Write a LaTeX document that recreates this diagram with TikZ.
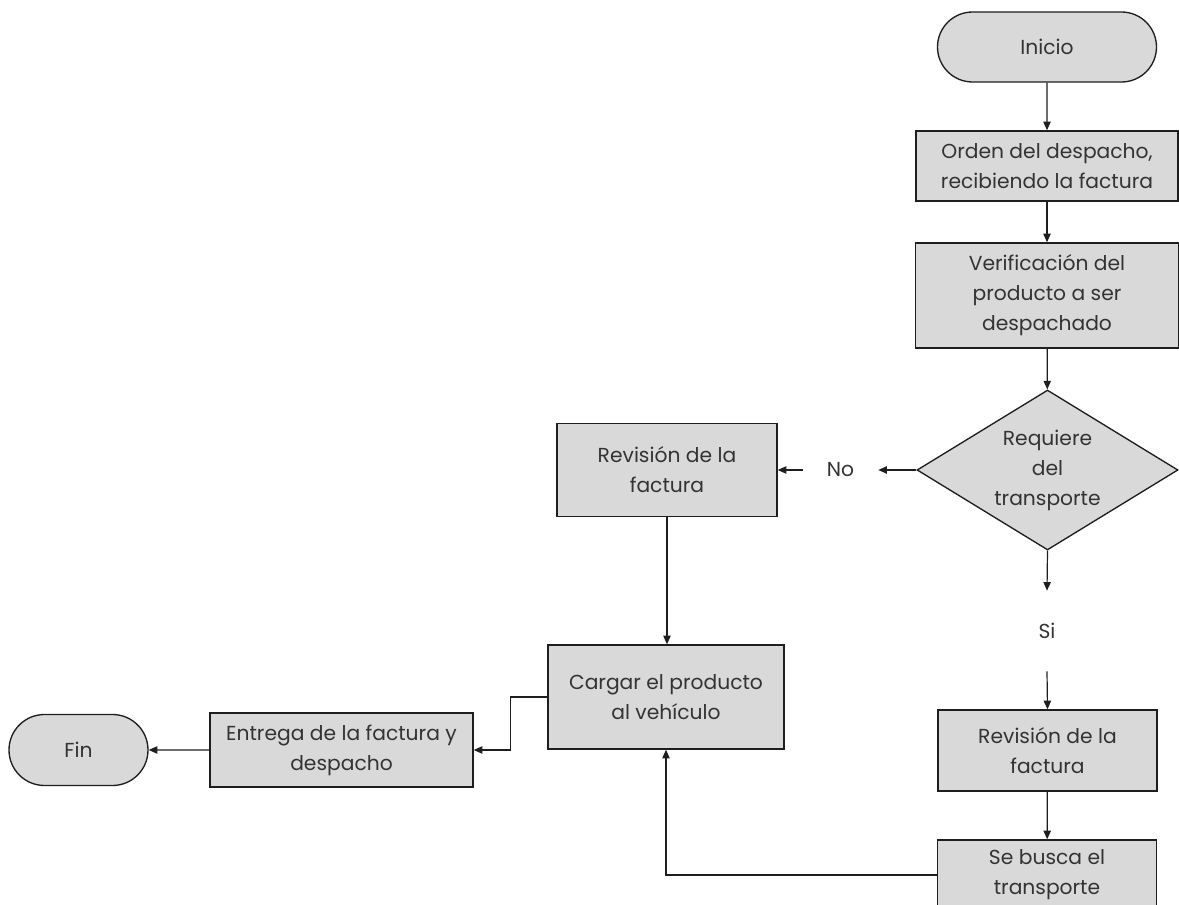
\documentclass[tikz,border=0pt]{standalone}
\usepackage{fontspec}
\setmainfont{Poppins}
\usetikzlibrary{shapes.geometric,shapes.misc,arrows.meta}
\definecolor{boxfill}{HTML}{D9D9D9}
\definecolor{edge}{HTML}{1E1E1E}
\definecolor{ink}{HTML}{333333}

\begin{document}
\begin{tikzpicture}[x=0.75pt,y=-0.75pt,
  every node/.style={font=\fontsize{15.2}{22.5}\selectfont, text=ink},
  size/.style 2 args={minimum width=#1*0.75pt, minimum height=#2*0.75pt},
  proc/.style={draw=edge, fill=boxfill, line width=1pt, inner sep=0pt, align=center},
  term/.style={proc, rounded rectangle},
  decision/.style={proc, diamond, aspect=1.63},
  lbl/.style={inner sep=0pt},
  flow/.style={draw=edge, line width=0.9pt, -{Triangle[length=6.5pt,width=5.5pt]}}]

\path[use as bounding box] (0,0) rectangle (1179,905);
\clip (0,0) rectangle (1179,905);

% main column
\node[term, size={219}{70}] (inicio) at (1047,47) {Inicio};
\node[proc, size={262}{70}] (orden) at (1047,166) {Orden del despacho,\\recibiendo la factura};
\node[proc, size={263}{105}] (verif) at (1047,295.5) {Verificación del\\producto a ser\\despachado};
\node[decision, size={261}{160}] (dec) at (1047.5,470) {Requiere\\del\\transporte};

% "No" branch
\node[lbl, size={75}{30}] (no) at (840.5,470) {No};
\node[proc, size={220}{93}] (rev1) at (667,470) {Revisión de la\\factura};
\node[proc, size={236}{104}] (cargar) at (666,697) {Cargar el producto\\al vehículo};
\node[proc, size={263}{74}] (entrega) at (341.5,750) {Entrega de la factura y\\despacho};
\node[term, size={139}{71}] (fin) at (78.5,750) {Fin};

% "Si" branch
\node[lbl, size={40}{80}] (si) at (1047,631) {Si};
\node[proc, size={219}{81}] (rev2) at (1047.5,750.5) {Revisión de la\\factura};
\node[proc, size={219}{70}] (busca) at (1047,875) {Se busca el\\transporte};

% connectors
\draw[flow] (inicio) -- (orden);
\draw[flow] (orden) -- (verif);
\draw[flow] (verif) -- (dec);
\draw[flow] (dec.west) -- (no.east);
\draw[flow] (no.west) -- (rev1.east);
\draw[flow] (rev1.south) -- (rev1.south |- cargar.north);
\draw[flow] (cargar.west) -- ++(-37,0) |- (entrega.east);
\draw[flow] (entrega) -- (fin);
\draw[flow] (dec.south) -- (si.north);
\draw[flow] (si.south) -- (rev2.north);
\draw[flow] (rev2) -- (busca);
\draw[flow] (busca.west) -| (cargar.south);
\end{tikzpicture}
\end{document}
